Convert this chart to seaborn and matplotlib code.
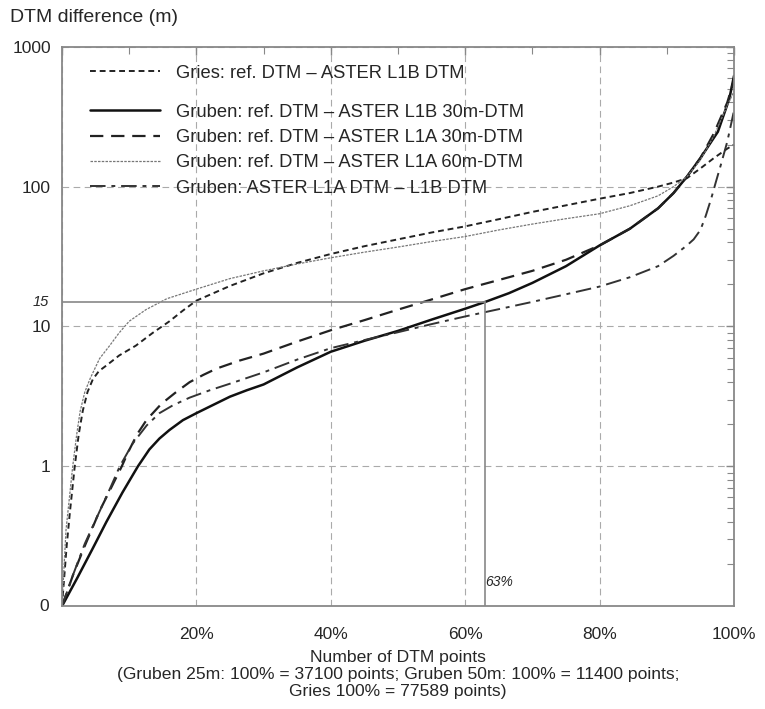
import numpy as np
import pandas as pd
import matplotlib
matplotlib.use("Agg")
import matplotlib.pyplot as plt
import seaborn as sns
from matplotlib.ticker import FixedLocator, NullFormatter

# percent of DTM points (x) and DTM difference in m (y)
gries_x = [0, 0.7, 1.2, 1.9, 2.5, 3.1, 3.8, 4.6, 5.5, 6.7, 8.5, 11, 13.5, 16, 18, 20, 25, 30, 35,
           40, 45, 50, 55, 60, 65, 70, 75, 80, 84.5, 88.7, 91, 93, 95, 97, 99, 100]
gries_y = [0.1, 0.27, 0.48, 1.0, 1.7, 2.5, 3.4, 4.2, 4.8, 5.3, 6.2, 7.3, 9.0, 10.9, 13, 15.3, 19.5, 24, 28.5,
           33, 37.5, 42, 47, 52, 58.5, 66, 73.5, 82, 90, 100, 107, 115, 135, 160, 187, 200]

l1b30_x = [0, 2.3, 4.6, 6.6, 9, 11.3, 13, 14.5, 16, 18, 20, 22.5, 25, 27.5, 30, 35, 40, 45, 50, 55,
           60, 63, 66.5, 70, 75, 80, 84.5, 88.7, 91, 93, 95, 97.6, 99.3, 100]
l1b30_y = [0.1, 0.16, 0.26, 0.4, 0.65, 1.0, 1.32, 1.58, 1.82, 2.14, 2.4, 2.75, 3.15, 3.5, 3.85, 5.1, 6.6, 7.9, 9.3, 11.2,
           13.4, 15, 17.3, 20.5, 27, 38, 50, 70, 90, 118, 160, 247, 425, 620]

l1a30_x = [0, 1.7, 3.4, 5.6, 7.3, 8.9, 9.8, 11.2, 12.6, 14.8, 17, 19, 21, 23, 26.4, 30, 35, 40, 45,
           50, 55, 60, 65, 70, 75, 80, 84.5, 88.7, 91, 93, 95, 97, 99, 100]
l1a30_y = [0.1, 0.17, 0.27, 0.48, 0.7, 1.0, 1.25, 1.7, 2.15, 2.8, 3.4, 4.0, 4.5, 5.0, 5.7, 6.4, 7.8, 9.4, 11.1,
           13.2, 15.6, 18.5, 21.5, 25, 30, 38, 50, 70, 90, 118, 160, 240, 400, 580]

l1a60_x = [0, 0.6, 1.6, 2.2, 2.7, 3.4, 4.2, 5.6, 7.1, 8.5, 10, 12.5, 15.6, 20, 25, 30, 35, 40, 45,
           50, 55, 60, 65, 70, 75, 80, 84.5, 88.7, 91, 93, 95, 97, 99, 100]
l1a60_y = [0.1, 0.35, 1.0, 1.7, 2.47, 3.4, 4.25, 5.9, 7.3, 9.0, 10.9, 13.2, 15.8, 18.5, 22, 25, 28, 31, 34,
           37, 40.5, 44, 49, 54, 59, 64, 73, 86, 100, 118, 155, 230, 380, 480]

l1a_l1b_x = [0, 1.7, 3.4, 5.8, 7.3, 8.6, 10.5, 12.6, 14.5, 16.5, 19, 22, 25, 30, 35, 40, 45, 50, 55,
             60, 65, 70, 75, 80, 84.5, 88.7, 91, 93, 94, 95, 95.8, 96.6, 97.3, 98, 99, 100]
l1a_l1b_y = [0.1, 0.17, 0.28, 0.5, 0.72, 1.0, 1.45, 1.96, 2.4, 2.73, 3.1, 3.5, 3.9, 4.7, 5.8, 7.0, 8.0, 9.1, 10.4,
             11.8, 13.3, 15, 17, 19.3, 22.5, 27, 32, 38, 42, 49, 62, 82, 108, 141, 210, 350]

labels = [
    "Gries: ref. DTM \u2013 ASTER L1B DTM",
    "Gruben: ref. DTM \u2013 ASTER L1B 30m-DTM",
    "Gruben: ref. DTM \u2013 ASTER L1A 30m-DTM",
    "Gruben: ref. DTM \u2013 ASTER L1A 60m-DTM",
    "Gruben: ASTER L1A DTM \u2013 L1B DTM",
]

# 15 m threshold reached by the L1B 30m curve at 63 %
thr_y = 15
thr_x = 63

x_ticks = [0, 20, 40, 60, 80, 100]
x_ticklabels = ["", "20%", "40%", "60%", "80%", "100%"]
y_ticks = [1, 10, 100, 1000]
y_ticklabels = ["1", "10", "100", "1000"]

sns.set_theme(style="white")
plt.rcParams["font.family"] = ["Liberation Sans", "DejaVu Sans"]
plt.rcParams["font.size"] = 12.5

fig, ax = plt.subplots(figsize=(7.65, 7.09), dpi=100)
fig.subplots_adjust(left=0.081, right=0.9595, top=0.934, bottom=0.145)

series = [
    (gries_x, gries_y, dict(color="#222222", lw=1.4, ls=(0, (3, 2)))),
    (l1b30_x, l1b30_y, dict(color="#111111", lw=1.8, ls="-")),
    (l1a30_x, l1a30_y, dict(color="#222222", lw=1.6, ls=(0, (6, 3.5)))),
    (l1a60_x, l1a60_y, dict(color="#777777", lw=0.9, ls=(0, (2, 1)))),
    (l1a_l1b_x, l1a_l1b_y, dict(color="#333333", lw=1.4, ls=(0, (8, 3, 2, 3)))),
]

handles = []
for (xs, ys, kw), lab in zip(series, labels):
    df = pd.DataFrame({"x": xs, "y": ys})
    sns.lineplot(data=df, x="x", y="y", ax=ax, sort=False, **kw)
    handles.append(ax.lines[-1])

# threshold marker lines
ax.plot([0, thr_x], [thr_y, thr_y], color="#888888", lw=1.2)
ax.plot([thr_x, thr_x], [0.1, thr_y], color="#888888", lw=1.2)

ax.set_yscale("log")
ax.set_xlim(0, 100)
ax.set_ylim(0.1, 1000)

ax.xaxis.set_major_locator(FixedLocator(x_ticks))
ax.set_xticklabels(x_ticklabels)
ax.xaxis.set_minor_locator(FixedLocator([10, 30, 50, 70, 90]))
ax.yaxis.set_major_locator(FixedLocator(y_ticks))
ax.set_yticklabels(y_ticklabels)
minor_y = [m * 10.0 ** e for e in range(-1, 3) for m in range(2, 10)]
ax.yaxis.set_minor_locator(FixedLocator(minor_y))
ax.yaxis.set_minor_formatter(NullFormatter())

ax.tick_params(which="both", direction="in", top=True, right=True, color="#888888",
               labelsize=12.5, pad=8)
ax.tick_params(axis="x", which="major", pad=15)
ax.tick_params(which="major", length=6, width=1)
ax.tick_params(which="minor", length=5, width=0.8)

ax.grid(True, which="major", color="#aaaaaa", lw=0.8, ls=(0, (6, 4)))
for sp in ax.spines.values():
    sp.set_color("#888888")
    sp.set_linewidth(1.3)

ax.set_ylabel("")
ax.set_xlabel("Number of DTM points\n(Gruben 25m: 100% = 37100 points; Gruben 50m: 100% = 11400 points;\n"
              "Gries 100% = 77589 points)", fontsize=12.6, linespacing=1.15, labelpad=6)

fig.text(0.013, 0.975, "DTM difference (m)", ha="left", va="center", fontsize=14)
ax.text(-0.02, 0.1, "0", transform=ax.get_yaxis_transform(), ha="right", va="center", fontsize=12.5)
ax.text(-0.02, thr_y, "15", transform=ax.get_yaxis_transform(), ha="right", va="center",
        fontsize=10.5, style="italic")
ax.text(thr_x + 2, 0.15, f"{thr_x}%", ha="center", va="center", fontsize=10, style="italic")

leg_kw = dict(frameon=False, loc="upper left", borderaxespad=0, borderpad=0,
              handlelength=3.8, handletextpad=0.9, labelspacing=0.45, fontsize=13.2)
leg1 = ax.legend(handles[:1], labels[:1], bbox_to_anchor=(0.042, 0.968), **leg_kw)
ax.add_artist(leg1)
ax.legend(handles[1:], labels[1:], bbox_to_anchor=(0.042, 0.898), **leg_kw)

fig.savefig("out.png", dpi=100, facecolor="white")
